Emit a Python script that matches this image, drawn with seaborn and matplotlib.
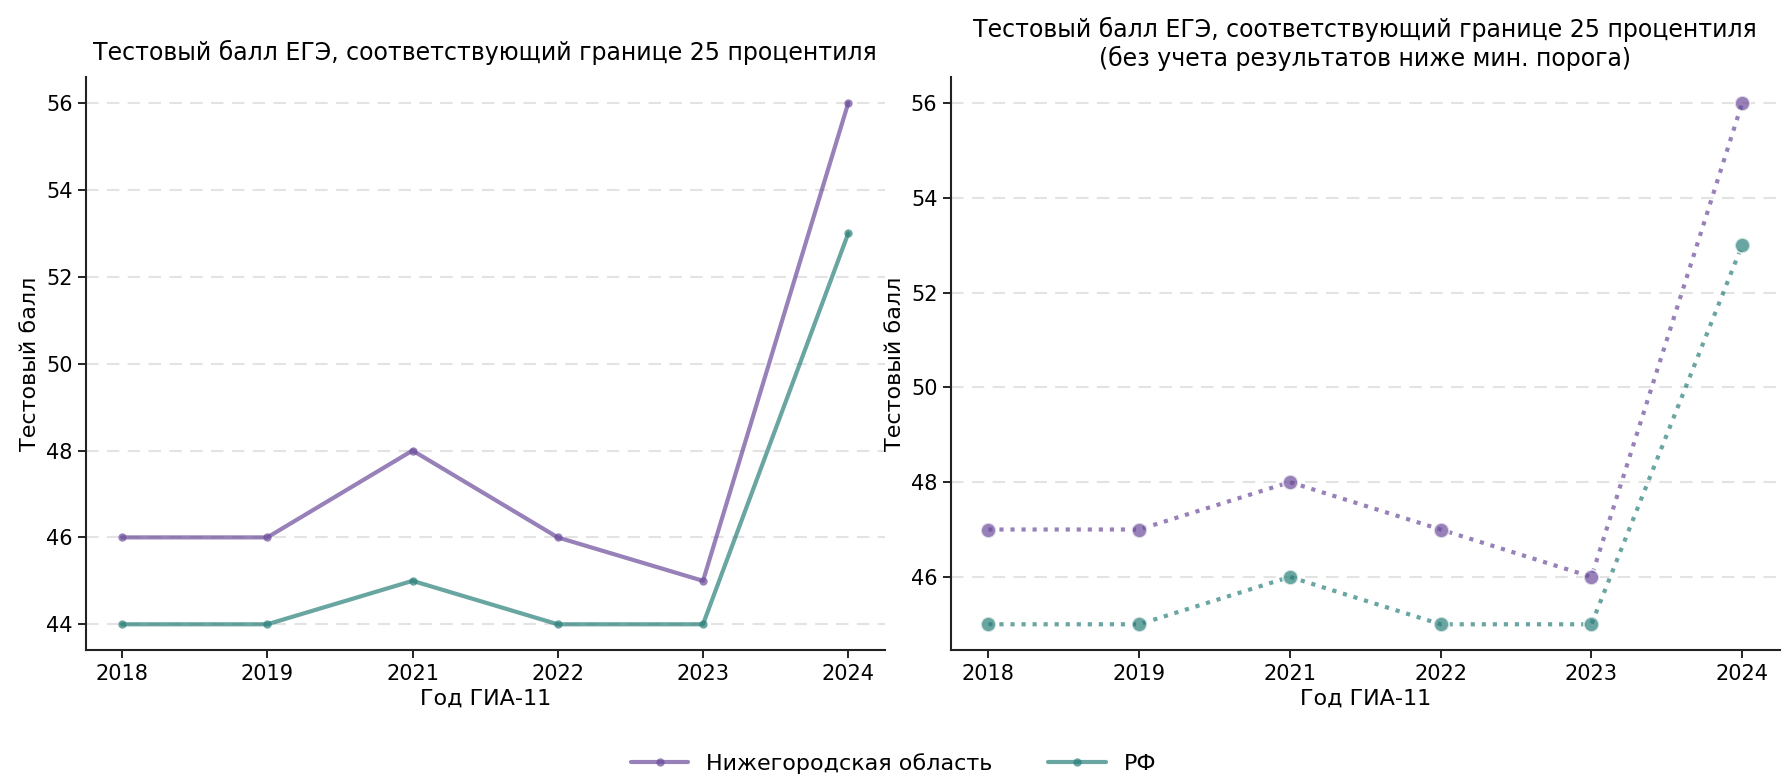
import matplotlib
matplotlib.use("Agg")
import matplotlib.pyplot as plt
import pandas as pd
import seaborn as sns

years = ["2018", "2019", "2021", "2022", "2023", "2024"]
regions = ["Нижегородская область", "РФ"]

# Left panel: 25th percentile score
nn_all = [46, 46, 48, 46, 45, 56]
rf_all = [44, 44, 45, 44, 44, 53]

# Right panel: excluding results below the minimum threshold
nn_thr = [47, 47, 48, 47, 46, 56]
rf_thr = [45, 45, 46, 45, 45, 53]

palette = {"Нижегородская область": "#6b4c9a", "РФ": "#2a7f7a"}

sns.set_theme(style="ticks")
plt.rcParams["font.family"] = ["DejaVu Sans"]
plt.rcParams["text.color"] = "black"
plt.rcParams["axes.labelcolor"] = "black"
plt.rcParams["xtick.color"] = "black"
plt.rcParams["ytick.color"] = "black"


def make_df(nn, rf):
    return pd.DataFrame({
        "year": years * 2,
        "score": nn + rf,
        "region": [regions[0]] * len(years) + [regions[1]] * len(years),
    })


fig = plt.figure(figsize=(17.87, 7.77), dpi=100)
ax1 = fig.add_axes([0.048, 0.163, 0.447, 0.738])
ax2 = fig.add_axes([0.532, 0.163, 0.464, 0.738])

sns.lineplot(data=make_df(nn_all, rf_all), x="year", y="score", hue="region",
             palette=palette, marker="o", markersize=6, markeredgewidth=0,
             linewidth=3, alpha=0.7, ax=ax1)
sns.lineplot(data=make_df(nn_thr, rf_thr), x="year", y="score", hue="region",
             palette=palette, marker="o", markersize=11, markeredgewidth=1.5,
             linewidth=3, linestyle=":", alpha=0.7, ax=ax2, legend=False)

ax1.set_title("Тестовый балл ЕГЭ, соответствующий границе 25 процентиля",
              fontsize=17, pad=12)
ax2.set_title("Тестовый балл ЕГЭ, соответствующий границе 25 процентиля\n"
              "(без учета результатов ниже мин. порога)", fontsize=17, pad=8)

for ax in (ax1, ax2):
    ax.set_xlabel("Год ГИА-11", fontsize=16)
    ax.set_ylabel("Тестовый балл", fontsize=16)
    ax.tick_params(labelsize=15, length=6, width=1.2)
    ax.yaxis.grid(True, linestyle="--", color="#e3e3e3", linewidth=1.5, dashes=(6, 4))
    ax.set_axisbelow(True)
    for s in ("left", "bottom"):
        ax.spines[s].set_linewidth(1.5)
        ax.spines[s].set_color("#222222")
    sns.despine(ax=ax)

ax1.set_yticks([44, 46, 48, 50, 52, 54, 56])
ax2.set_yticks([46, 48, 50, 52, 54, 56])

handles, labels = ax1.get_legend_handles_labels()
ax1.get_legend().remove()
for h in handles:
    h.set_markersize(6)
fig.legend(handles, labels, loc="lower center", ncol=2, frameon=False,
           fontsize=16, bbox_to_anchor=(0.5, -0.022), columnspacing=2.5,
           handlelength=2.6)

fig.savefig("out.png", dpi=100)
